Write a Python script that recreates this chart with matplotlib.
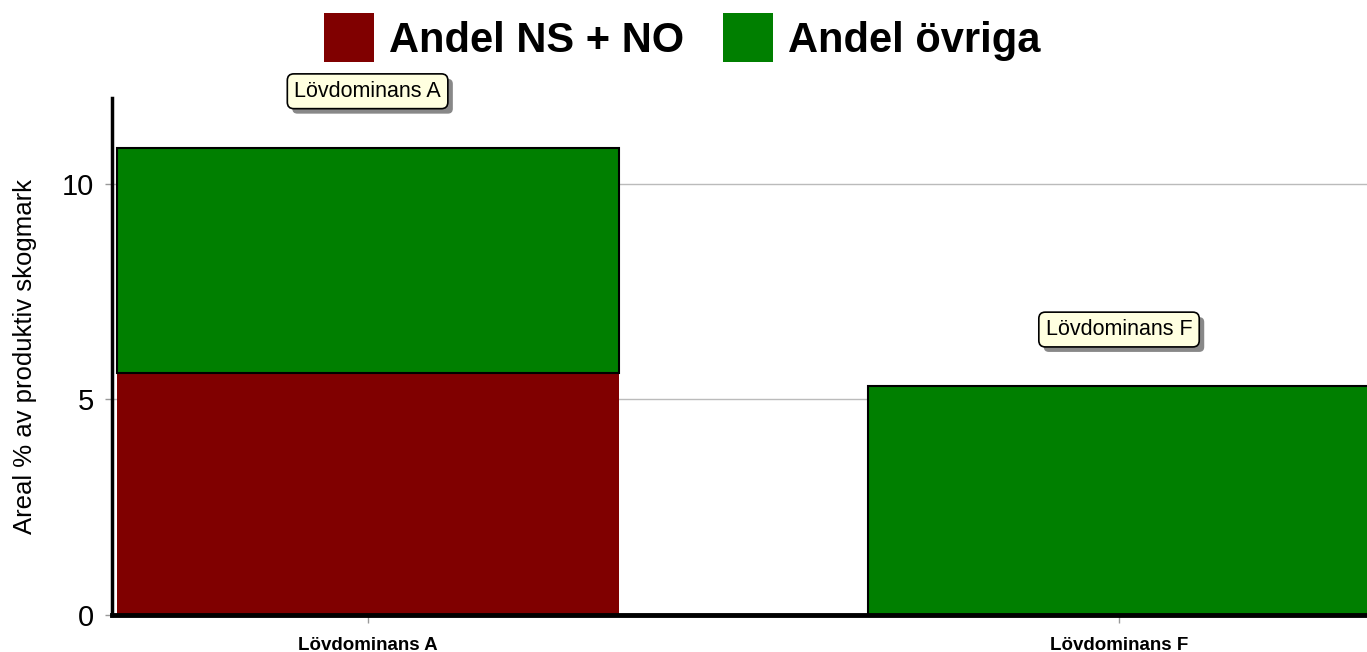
#!/usr/bin/env python3
"""
Stacked bars: andel NS + NO vs andel övriga for two lövdominans classes.
"""

import matplotlib
matplotlib.use("Agg")
import matplotlib.pyplot as plt
from matplotlib.patches import Patch, FancyBboxPatch
from matplotlib.transforms import IdentityTransform

# data
categories = ["Lövdominans A", "Lövdominans F"]
andel_ns_no = [5.62, 0.0]
andel_ovriga = [5.21, 5.30]
series_labels = ["Andel NS + NO", "Andel övriga"]
y_ticks = [0, 5, 10]

RED = "#800000"
GREEN = "#007f00"

plt.rcParams["font.family"] = ["Liberation Sans", "DejaVu Sans"]

fig = plt.figure(figsize=(13.67, 6.52), dpi=100)
ax = fig.add_axes([0.082, 0.057, 0.918, 0.793])

x = list(range(len(categories)))
width = 0.668

ax.bar(x, andel_ns_no, width=width, color=RED, edgecolor="none", zorder=3)
ax.bar(x, andel_ovriga, width=width, bottom=andel_ns_no, color=GREEN,
       edgecolor="black", linewidth=1.5, zorder=3)

ax.set_xlim(-0.34, 1.33)
ax.set_ylim(0, 12)
ax.set_yticks(y_ticks)
ax.set_yticklabels([str(t) for t in y_ticks], fontsize=21)
ax.set_xticks(x)
ax.set_xticklabels(categories, fontsize=13.5, fontweight="bold")
ax.tick_params(axis="y", length=5, color="#999999", width=1, pad=8)
ax.tick_params(axis="x", length=6, color="#999999", width=1, pad=10)
ax.grid(axis="y", color="#bbbbbb", linewidth=1, zorder=0)

for side in ["top", "right"]:
  ax.spines[side].set_visible(False)
ax.spines["left"].set_linewidth(2.5)
ax.spines["bottom"].set_linewidth(3.5)
ax.spines["bottom"].set_zorder(4)

ax.set_ylabel("Areal % av produktiv skogmark", fontsize=18.5, labelpad=18)

# tooltip-like labels above each bar
tips = []
for xi, lab, a, b in zip(x, categories, andel_ns_no, andel_ovriga):
  t = ax.annotate(
    lab,
    xy=(xi, a + b),
    xytext=(0, 41),
    textcoords="offset points",
    ha="center",
    va="center",
    fontsize=15.5,
    color="black",
    zorder=6,
    annotation_clip=False,
    bbox={"boxstyle": "round,pad=0.32,rounding_size=0.3", "facecolor": "#ffffe0",
          "edgecolor": "black", "linewidth": 1.2},
  )
  tips.append(t)

handles = [Patch(facecolor=RED, edgecolor="none"), Patch(facecolor=GREEN, edgecolor="none")]
fig.legend(
  handles,
  series_labels,
  loc="center",
  bbox_to_anchor=(0.499, 0.942),
  ncol=2,
  frameon=False,
  prop={"size": 30, "weight": "bold"},
  handlelength=1.2,
  handleheight=1.44,
  handletextpad=0.36,
  columnspacing=0.95,
)

# gray drop shadow behind the tooltip boxes
fig.canvas.draw()
for t in tips:
  bb = t.get_bbox_patch().get_window_extent()
  shadow = FancyBboxPatch(
    (bb.x0 + 5, bb.y0 - 5), bb.width, bb.height,
    boxstyle="round,pad=0,rounding_size=5",
    transform=IdentityTransform(), facecolor="#888888", edgecolor="none",
    zorder=5, clip_on=False,
  )
  ax.add_artist(shadow)

plt.savefig("out.png", dpi=100)
